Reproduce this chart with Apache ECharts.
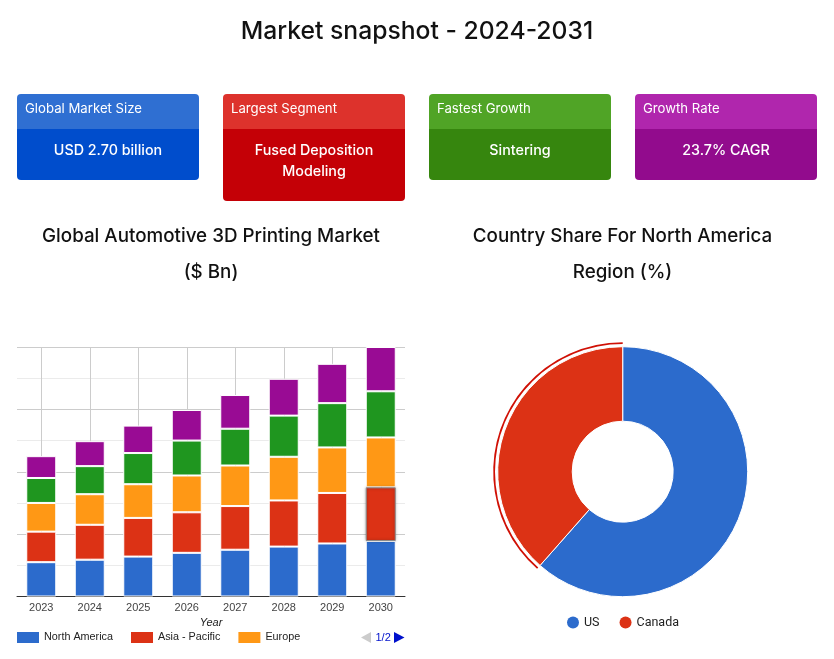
<!DOCTYPE html>
<html>
<head>
<meta charset="utf-8">
<script src="https://cdn.jsdelivr.net/npm/echarts@6/dist/echarts.min.js"></script>
<style>
  html, body { margin: 0; padding: 0; background: #fff; }
  #chart { width: 834px; height: 659px; }
</style>
</head>
<body>
<div id="chart"></div>
<script>
// data
const years = ["2023", "2024", "2025", "2026", "2027", "2028", "2029", "2030"];
const northAmerica = [0.55, 0.59, 0.64, 0.70, 0.75, 0.80, 0.85, 0.89];
const asiaPacific = [0.49, 0.56, 0.62, 0.65, 0.70, 0.74, 0.81, 0.86];
const europe = [0.46, 0.49, 0.54, 0.59, 0.65, 0.70, 0.73, 0.80];
const latinAmerica = [0.40, 0.45, 0.50, 0.56, 0.59, 0.66, 0.71, 0.74];
const middleEastAfrica = [0.35, 0.40, 0.44, 0.49, 0.54, 0.59, 0.63, 0.71];
const countries = ["US", "Canada"];
const countryShare = [61.5, 38.5];
const cardHeads = ["Global Market Size", "Largest Segment", "Fastest Growth", "Growth Rate"];
const cardValues = ["USD 2.70 billion", "Fused Deposition\nModeling", "Sintering", "23.7% CAGR"];

const FONT = "Inter";
const ARIAL = "Liberation Sans";

// cards
const cardX = [17, 223, 429, 635];
const cardBottom = [180, 201, 180, 180];
const cardColors = [
  ["#2f6fd2", "#004dcc"],
  ["#dd322c", "#c40006"],
  ["#50a426", "#36860e"],
  ["#b026ad", "#920b8d"]
];
const cardGraphics = [];
cardHeads.forEach((head, i) => {
  const x = cardX[i];
  cardGraphics.push(
    { type: "rect", shape: { x: x, y: 94, width: 182, height: 35, r: [4, 4, 0, 0] }, style: { fill: cardColors[i][0] } },
    { type: "rect", shape: { x: x, y: 129, width: 182, height: cardBottom[i] - 129, r: [0, 0, 4, 4] }, style: { fill: cardColors[i][1] } },
    { type: "text", x: x + 8, y: 109.5, style: { text: head, fill: "#fff", font: "400 13.2px " + FONT, textVerticalAlign: "middle" } },
    { type: "text", x: x + 91, y: 140, style: { text: cardValues[i], fill: "#fff", font: "500 14.3px " + FONT, textAlign: "center", lineHeight: 21 } }
  );
});

// legend pager, not a data mark
const pager = [
  { type: "polygon", shape: { points: [[361, 637.5], [371, 632], [371, 643]] }, style: { fill: "#ccc" } },
  { type: "text", x: 375.5, y: 638, style: { text: "1/2", fill: "#0011cc", font: "11px " + ARIAL, textVerticalAlign: "middle" } },
  { type: "polygon", shape: { points: [[394, 632], [404.5, 637.5], [394, 643]] }, style: { fill: "#0011cc" } }
];

function barSeries(name, values, color) {
  return {
    name: name,
    type: "bar",
    stack: "total",
    barWidth: 30,
    data: values,
    itemStyle: { color: color, borderColor: "#fff", borderWidth: 1 }
  };
}

const bars = [
  barSeries("North America", northAmerica, "#2c6bcc"),
  barSeries("Asia - Pacific", asiaPacific, "#dc3215"),
  barSeries("Europe", europe, "#ff9815"),
  barSeries("Latin America", latinAmerica, "#1f961f"),
  barSeries("Middle East & Africa", middleEastAfrica, "#990b94")
];
// 2030 Asia - Pacific bar is hovered in the picture
bars[1].data = asiaPacific.map((v, i) => i === years.length - 1
  ? { value: v, itemStyle: { borderColor: "#8c8c8c", borderWidth: 1, shadowColor: "rgba(0,0,0,0.35)", shadowBlur: 3 } }
  : v);
bars[1].z = 3;

const chart = echarts.init(document.getElementById("chart"));
chart.setOption({
  animation: false,
  title: [
    { text: "Market snapshot - 2024-2031", left: 417, top: 19, padding: 0, textAlign: "center",
      textStyle: { fontFamily: FONT, fontSize: 24.7, fontWeight: 500, color: "#111" } },
    { text: "Global Automotive 3D Printing Market\n($ Bn)", left: 211, top: 218, padding: 0, textAlign: "center",
      textStyle: { fontFamily: FONT, fontSize: 18.8, fontWeight: 500, color: "#111", lineHeight: 36 } },
    { text: "Country Share For North America\nRegion (%)", left: 622.5, top: 218, padding: 0, textAlign: "center",
      textStyle: { fontFamily: FONT, fontSize: 18.8, fontWeight: 500, color: "#111", lineHeight: 36 } }
  ],
  grid: { left: 17, right: 429, top: 347, height: 249.5 },
  xAxis: {
    type: "category",
    data: years,
    name: "Year",
    nameLocation: "middle",
    nameGap: 21,
    nameTextStyle: { fontFamily: ARIAL, fontSize: 11, fontStyle: "italic", color: "#222" },
    axisTick: { show: false },
    axisLine: { lineStyle: { color: "#333", width: 1 } },
    axisLabel: { fontFamily: ARIAL, fontSize: 11, color: "#444", margin: 6, interval: 0 },
    splitLine: { show: true, alignWithLabel: true, interval: 0, lineStyle: { color: "#ccc", width: 1 } }
  },
  yAxis: {
    type: "value",
    min: 0,
    max: 4,
    interval: 0.5,
    axisLabel: { show: false },
    axisLine: { show: false },
    axisTick: { show: false },
    splitLine: { lineStyle: { color: ["#ccc", "#ebebeb"], width: 1 } }
  },
  legend: [
    { left: 17, top: 632, padding: 0, itemWidth: 22, itemHeight: 11, itemGap: 18, icon: "rect",
      itemStyle: { borderWidth: 0 },
      data: ["North America", "Asia - Pacific", "Europe"],
      textStyle: { fontFamily: ARIAL, fontSize: 10.8, color: "#222" } },
    { left: 567, top: 616, padding: 0, itemWidth: 12, itemHeight: 12, itemGap: 20, icon: "circle",
      itemStyle: { borderWidth: 0 },
      data: countries,
      textStyle: { fontFamily: "Roboto", fontSize: 12.5, color: "#222" } }
  ],
  series: bars.concat([
    {
      type: "pie",
      center: [622.7, 471.7],
      radius: [50.5, 125],
      startAngle: 90,
      clockwise: true,
      label: { show: false },
      labelLine: { show: false },
      itemStyle: { borderColor: "#fff", borderWidth: 1 },
      color: ["#2c6bcc", "#dc3215"],
      data: countries.map((name, i) => ({ name: name, value: countryShare[i] }))
    },
    {
      // selection ring around the Canada slice
      type: "pie",
      center: [622.7, 471.7],
      radius: [127.7, 129.5],
      startAngle: 90,
      silent: true,
      legendHoverLink: false,
      label: { show: false },
      labelLine: { show: false },
      color: ["rgba(0,0,0,0)", "#d01005"],
      data: countries.map((name, i) => ({ name: name + " ring", value: countryShare[i] }))
    }
  ]),
  graphic: cardGraphics.concat(pager)
});
</script>
</body>
</html>
